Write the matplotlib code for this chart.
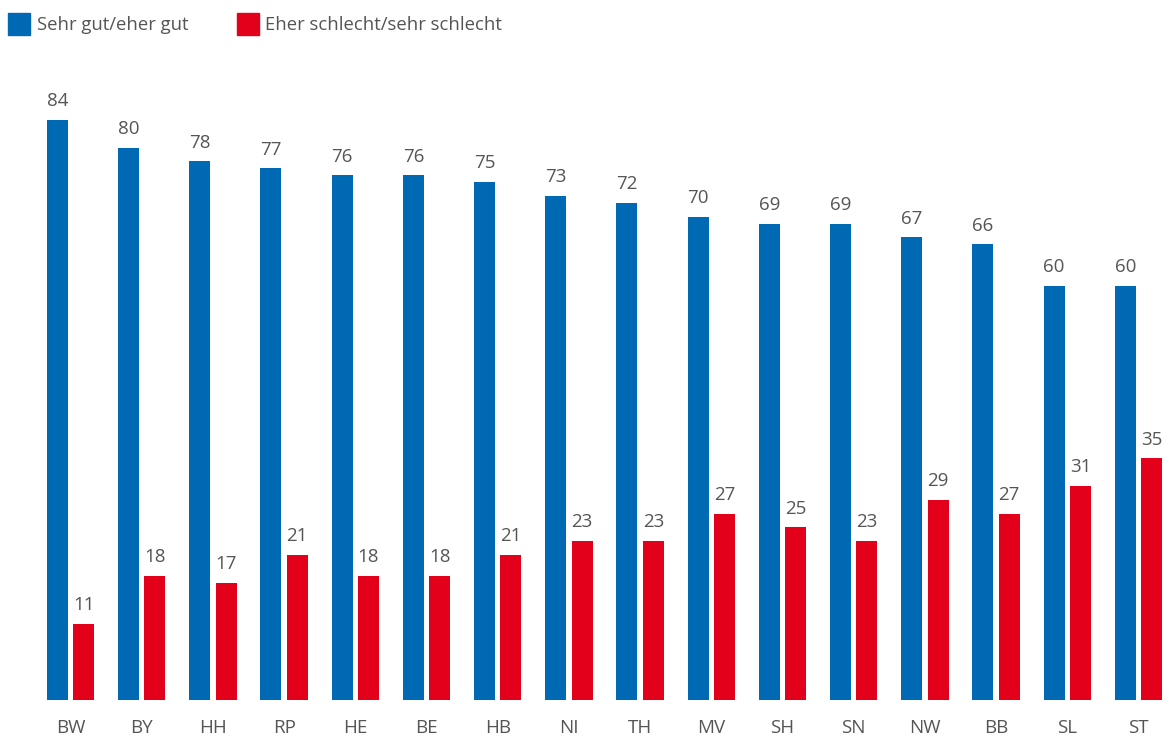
import matplotlib
matplotlib.use("Agg")
import matplotlib.pyplot as plt
from matplotlib.patches import Rectangle
import numpy as np

# Data
states = ["BW", "BY", "HH", "RP", "HE", "BE", "HB", "NI",
          "TH", "MV", "SH", "SN", "NW", "BB", "SL", "ST"]
good = [84, 80, 78, 77, 76, 76, 75, 73, 72, 70, 69, 69, 67, 66, 60, 60]
bad = [11, 18, 17, 21, 18, 18, 21, 23, 23, 27, 25, 23, 29, 27, 31, 35]
series_names = ["Sehr gut/eher gut", "Eher schlecht/sehr schlecht"]

BLUE = "#0069B4"
RED = "#E2001A"
TEXT = "#555555"

plt.rcParams['font.family'] = ['Open Sans', 'DejaVu Sans']

W, H = 1164, 736
fig = plt.figure(figsize=(W / 100, H / 100), dpi=100)

# axes: bottom at y=700px, 84 at y=120px
bottom_px = 700
top_px = 60
ax = fig.add_axes([0, (H - bottom_px) / H, 1, (bottom_px - top_px) / H])
px_per_unit = (700 - 120) / 84
ax.set_ylim(0, (bottom_px - top_px) / px_per_unit)

spacing = 71.2
x0 = 70.5
ax.set_xlim(-x0 / spacing, (W - x0) / spacing)

x = np.arange(len(states))
bw = 0.295
off = 0.185
bars1 = ax.bar(x - off, good, bw, color=BLUE)
bars2 = ax.bar(x + off, bad, bw, color=RED)

for bars in (bars1, bars2):
    for b in bars:
        ax.annotate(f"{int(b.get_height())}",
                    (b.get_x() + b.get_width() / 2, b.get_height()),
                    xytext=(0, 7), textcoords="offset points",
                    ha="center", va="bottom", fontsize=13.5, color=TEXT)

ax.set_xticks(x)
ax.set_xticklabels(states, fontsize=13.5, color=TEXT)
ax.tick_params(axis="x", length=0, pad=14)
ax.set_yticks([])
for s in ax.spines.values():
    s.set_visible(False)

# legend drawn at the top
for (lx, tx), name, col in zip([(8, 37), (237, 265)], series_names, [BLUE, RED]):
    fig.patches.append(Rectangle((lx / W, (H - 35) / H), 22 / W, 22 / H,
                                 transform=fig.transFigure, color=col))
    fig.text(tx / W, (H - 25) / H, name, fontsize=13.3, color=TEXT,
             ha="left", va="center")

fig.savefig("out.png", dpi=100)
